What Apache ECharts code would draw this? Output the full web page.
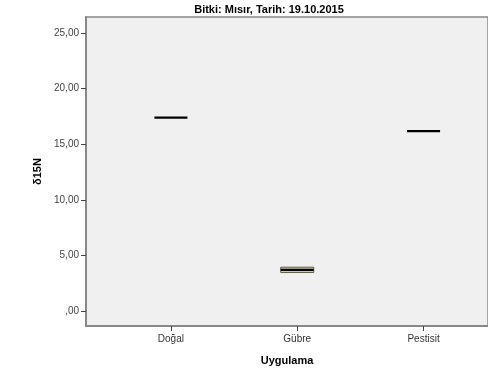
<!DOCTYPE html>
<html>
<head>
<meta charset="utf-8">
<script src="https://cdn.jsdelivr.net/npm/echarts@6/dist/echarts.min.js"></script>
<style>
  html, body { margin: 0; padding: 0; background: #ffffff; }
  #chart { width: 488px; height: 374px; }
</style>
</head>
<body>
<div id="chart"></div>
<script>
// Uygulama groups and their δ15N box summaries: [min, q1, median, q3, max]
const categories = ['Doğal', 'Gübre', 'Pestisit'];
const boxMin    = [17.39, 3.46, 16.18];
const boxQ1     = [17.39, 3.46, 16.18];
const boxMedian = [17.39, 3.70, 16.18];
const boxQ3     = [17.39, 3.94, 16.18];
const boxMax    = [17.39, 3.94, 16.18];
const yTicks = [0, 5, 10, 15, 20, 25];

const seriesData = categories.map((c, i) => [i + 1, boxMin[i], boxQ1[i], boxMedian[i], boxQ3[i], boxMax[i]]);

const FONT = '"Liberation Sans", Arial, sans-serif';
const fmt = v => (v === 0 ? ',00' : v.toFixed(2).replace('.', ','));

const chart = echarts.init(document.getElementById('chart'), null, { renderer: 'canvas' });

chart.setOption({
  animation: false,
  backgroundColor: '#ffffff',
  title: {
    text: 'Bitki: Mısır, Tarih: 19.10.2015',
    left: 269, top: 4, padding: 0, textAlign: 'center',
    textStyle: { fontFamily: FONT, fontSize: 11, fontWeight: 'bold', color: '#000' }
  },
  grid: {
    left: 86, top: 17, right: -2, bottom: 48,
    show: true, backgroundColor: '#f0f0f0', borderColor: '#888', borderWidth: 1.5
  },
  xAxis: {
    type: 'value', min: 0.328, max: 3.51,
    name: 'Uygulama', nameLocation: 'middle', nameGap: 29,
    nameTextStyle: { fontFamily: FONT, fontSize: 11, fontWeight: 'bold', color: '#000' },
    axisLine: { show: true, onZero: false, lineStyle: { color: '#888', width: 2 } },
    splitLine: { show: false },
    axisTick: { show: true, customValues: [1, 2, 3], length: 5, lineStyle: { color: '#444' } },
    axisLabel: {
      customValues: [1, 2, 3], margin: 8,
      formatter: v => categories[Math.round(v) - 1],
      fontFamily: FONT, fontSize: 10, color: '#333'
    }
  },
  yAxis: {
    type: 'value', min: -1.35, max: 26.45,
    name: 'δ15N', nameLocation: 'middle', nameGap: 40, nameRotate: 90,
    nameTextStyle: { fontFamily: FONT, fontSize: 11, fontWeight: 'bold', color: '#000' },
    axisLine: { show: true, onZero: false, lineStyle: { color: '#888', width: 2 } },
    splitLine: { show: false },
    axisTick: { show: true, customValues: yTicks, length: 5, lineStyle: { color: '#444' } },
    axisLabel: {
      customValues: yTicks, margin: 7, formatter: v => fmt(v),
      fontFamily: FONT, fontSize: 10, color: '#444'
    }
  },
  series: [{
    type: 'custom',
    data: seriesData,
    encode: { x: 0, y: [1, 2, 3, 4, 5] },
    renderItem: function (params, api) {
      const x = api.value(0);
      const lo = api.coord([x, api.value(1)]);
      const q1 = api.coord([x, api.value(2)]);
      const md = api.coord([x, api.value(3)]);
      const q3 = api.coord([x, api.value(4)]);
      const hi = api.coord([x, api.value(5)]);
      const half = 16.5;
      const children = [];
      if (Math.abs(q1[1] - q3[1]) > 0.5) {
        children.push({
          type: 'rect',
          shape: { x: q1[0] - half, y: q3[1], width: half * 2, height: q1[1] - q3[1] },
          style: { fill: '#cfc994', stroke: '#5f5f4c', lineWidth: 1 }
        });
      }
      if (Math.abs(lo[1] - q1[1]) > 0.5) {
        children.push({ type: 'line', shape: { x1: lo[0], y1: lo[1], x2: q1[0], y2: q1[1] }, style: { stroke: '#000', lineWidth: 1 } });
      }
      if (Math.abs(hi[1] - q3[1]) > 0.5) {
        children.push({ type: 'line', shape: { x1: hi[0], y1: hi[1], x2: q3[0], y2: q3[1] }, style: { stroke: '#000', lineWidth: 1 } });
      }
      children.push({
        type: 'line',
        shape: { x1: md[0] - half, y1: md[1], x2: md[0] + half, y2: md[1] },
        style: { stroke: '#000', lineWidth: 2.2 }
      });
      return { type: 'group', children: children };
    }
  }]
});
</script>
</body>
</html>
